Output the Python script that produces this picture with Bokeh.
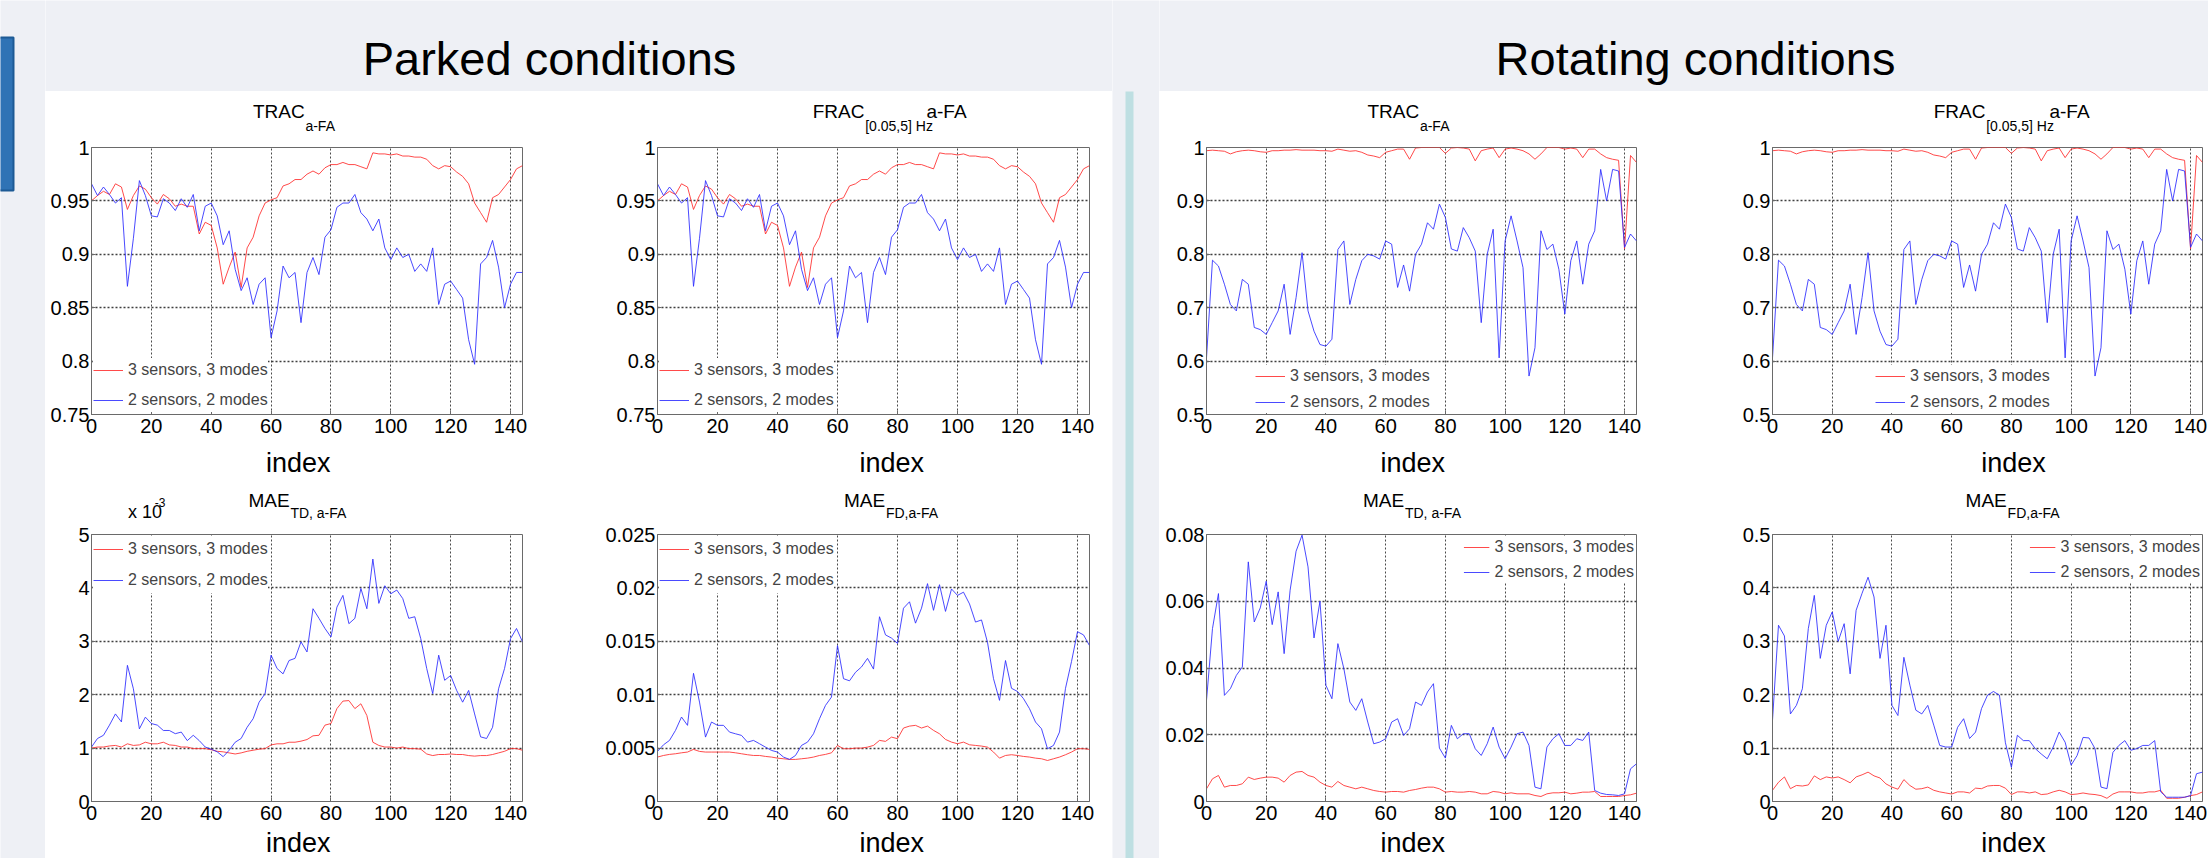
from bokeh.plotting import figure
from bokeh.layouts import row, column
from bokeh.models import Range1d, FixedTicker, Legend, LegendItem, Label
from bokeh.embed import file_html
from bokeh.resources import INLINE

FONT = "Liberation Sans"
BG = "#EEF0F5"
WHITE = "#FFFFFF"
RED = "#ff2a2a"
BLUE = "#2a2aff"
AXC = "#6a6a6a"
MID = 0.3465  # baseline -> middle offset, in em

# ---------------- data ----------------
index = list(range(0, 145, 2))
x_ticks = [0, 20, 40, 60, 80, 100, 120, 140]
headers = ["Parked conditions", "Rotating conditions"]
series_names = ["3 sensors, 3 modes", "2 sensors, 2 modes"]

trac_parked_ticks = [0.75, 0.8, 0.85, 0.9, 0.95, 1.0]
trac_parked_labels = ["0.75", "0.8", "0.85", "0.9", "0.95", "1"]
mae_td_parked_ticks = [0, 1, 2, 3, 4, 5]
mae_td_parked_labels = ["0", "1", "2", "3", "4", "5"]
mae_fd_parked_ticks = [0.0, 0.005, 0.01, 0.015, 0.02, 0.025]
mae_fd_parked_labels = ["0", "0.005", "0.01", "0.015", "0.02", "0.025"]
trac_rot_ticks = [0.5, 0.6, 0.7, 0.8, 0.9, 1.0]
trac_rot_labels = ["0.5", "0.6", "0.7", "0.8", "0.9", "1"]
mae_td_rot_ticks = [0.0, 0.02, 0.04, 0.06, 0.08]
mae_td_rot_labels = ["0", "0.02", "0.04", "0.06", "0.08"]
mae_fd_rot_ticks = [0.0, 0.1, 0.2, 0.3, 0.4, 0.5]
mae_fd_rot_labels = ["0", "0.1", "0.2", "0.3", "0.4", "0.5"]

trac_parked_3s = [0.950, 0.955, 0.959, 0.956, 0.966, 0.963, 0.942, 0.955, 0.964, 0.961,
                  0.953, 0.947, 0.956, 0.952, 0.945, 0.947, 0.945, 0.945, 0.919, 0.930,
                  0.927, 0.906, 0.872, 0.888, 0.902, 0.869, 0.906, 0.916, 0.936, 0.948,
                  0.951, 0.953, 0.964, 0.966, 0.970, 0.970, 0.975, 0.978, 0.975, 0.981,
                  0.984, 0.984, 0.986, 0.984, 0.984, 0.982, 0.980, 0.995, 0.994, 0.994,
                  0.993, 0.994, 0.992, 0.992, 0.991, 0.991, 0.989, 0.983, 0.980, 0.983,
                  0.982, 0.977, 0.973, 0.966, 0.948, 0.939, 0.930, 0.953, 0.956, 0.963,
                  0.970, 0.980, 0.983]
trac_parked_2s = [0.966, 0.955, 0.963, 0.956, 0.948, 0.953, 0.870, 0.915, 0.969, 0.955,
                  0.936, 0.935, 0.952, 0.948, 0.941, 0.952, 0.944, 0.956, 0.922, 0.945,
                  0.948, 0.936, 0.909, 0.922, 0.886, 0.866, 0.878, 0.853, 0.872, 0.878,
                  0.822, 0.847, 0.889, 0.878, 0.883, 0.836, 0.883, 0.897, 0.881, 0.916,
                  0.923, 0.944, 0.948, 0.948, 0.956, 0.939, 0.933, 0.922, 0.933, 0.906,
                  0.895, 0.906, 0.897, 0.900, 0.884, 0.891, 0.884, 0.906, 0.853, 0.872,
                  0.875, 0.867, 0.859, 0.820, 0.797, 0.891, 0.897, 0.913, 0.888, 0.850,
                  0.872, 0.883, 0.883]
frac_parked_3s = [0.950, 0.955, 0.959, 0.956, 0.966, 0.963, 0.942, 0.955, 0.964, 0.961,
                  0.953, 0.947, 0.956, 0.952, 0.945, 0.947, 0.945, 0.945, 0.919, 0.930,
                  0.927, 0.906, 0.870, 0.888, 0.902, 0.869, 0.906, 0.916, 0.936, 0.948,
                  0.951, 0.953, 0.964, 0.966, 0.970, 0.970, 0.975, 0.978, 0.975, 0.981,
                  0.984, 0.984, 0.986, 0.984, 0.984, 0.982, 0.980, 0.995, 0.994, 0.994,
                  0.993, 0.994, 0.992, 0.992, 0.991, 0.991, 0.989, 0.983, 0.980, 0.983,
                  0.982, 0.977, 0.973, 0.966, 0.948, 0.939, 0.930, 0.953, 0.956, 0.963,
                  0.970, 0.980, 0.983]
frac_parked_2s = [0.966, 0.955, 0.963, 0.956, 0.948, 0.953, 0.870, 0.915, 0.969, 0.955,
                  0.936, 0.935, 0.952, 0.948, 0.941, 0.952, 0.944, 0.956, 0.922, 0.945,
                  0.948, 0.936, 0.909, 0.922, 0.886, 0.866, 0.878, 0.853, 0.872, 0.878,
                  0.822, 0.847, 0.889, 0.878, 0.883, 0.836, 0.883, 0.897, 0.881, 0.916,
                  0.923, 0.944, 0.948, 0.948, 0.956, 0.939, 0.933, 0.922, 0.933, 0.906,
                  0.895, 0.906, 0.897, 0.900, 0.884, 0.891, 0.884, 0.906, 0.853, 0.872,
                  0.875, 0.867, 0.859, 0.820, 0.797, 0.891, 0.897, 0.913, 0.888, 0.850,
                  0.872, 0.883, 0.883]
# MAE TD parked, in units of 1e-3
mae_td_parked_3s = [1.00, 1.02, 1.02, 1.04, 1.05, 1.02, 1.08, 1.05, 1.06, 1.11,
                    1.08, 1.08, 1.11, 1.06, 1.05, 1.02, 1.02, 0.99, 0.99, 0.99,
                    0.97, 0.94, 0.93, 0.91, 0.89, 0.91, 0.94, 0.96, 0.98, 0.99,
                    1.06, 1.08, 1.08, 1.11, 1.11, 1.13, 1.16, 1.23, 1.24, 1.43,
                    1.46, 1.74, 1.88, 1.89, 1.74, 1.83, 1.61, 1.11, 1.05, 1.02,
                    1.02, 1.00, 1.02, 0.99, 0.99, 0.98, 0.89, 0.86, 0.88, 0.88,
                    0.89, 0.88, 0.88, 0.86, 0.85, 0.86, 0.86, 0.88, 0.91, 0.94,
                    0.99, 0.99, 0.96]
mae_td_parked_2s = [1.02, 1.18, 1.24, 1.43, 1.64, 1.49, 2.55, 2.11, 1.36, 1.58,
                    1.46, 1.43, 1.33, 1.33, 1.27, 1.30, 1.14, 1.24, 1.14, 1.02,
                    0.98, 0.93, 0.84, 0.96, 1.11, 1.18, 1.39, 1.55, 1.86, 2.02,
                    2.74, 2.49, 2.39, 2.64, 2.68, 2.99, 2.80, 3.61, 3.43, 3.24,
                    3.08, 3.64, 3.86, 3.33, 3.43, 3.99, 3.61, 4.54, 3.71, 4.04,
                    3.89, 3.96, 3.80, 3.43, 3.46, 3.05, 2.49, 2.02, 2.74, 2.27,
                    2.36, 2.08, 1.86, 2.08, 1.64, 1.21, 1.18, 1.39, 2.11, 2.49,
                    3.05, 3.24, 2.99]
mae_fd_parked_3s = [0.00416, 0.00431, 0.00441, 0.00447, 0.00456, 0.00463, 0.00488, 0.00469, 0.00463, 0.00463,
                    0.00463, 0.00463, 0.00463, 0.00456, 0.00447, 0.00438, 0.00431, 0.00431, 0.00422, 0.00416,
                    0.00406, 0.00400, 0.00394, 0.00394, 0.00400, 0.00406, 0.00416, 0.00431, 0.00441, 0.00456,
                    0.00525, 0.00494, 0.00494, 0.00500, 0.00500, 0.00509, 0.00525, 0.00572, 0.00563, 0.00603,
                    0.00588, 0.00688, 0.00706, 0.00713, 0.00688, 0.00706, 0.00666, 0.00634, 0.00581, 0.00556,
                    0.00541, 0.00556, 0.00531, 0.00525, 0.00519, 0.00509, 0.00463, 0.00406, 0.00431, 0.00438,
                    0.00431, 0.00422, 0.00416, 0.00406, 0.00400, 0.00384, 0.00400, 0.00416, 0.00438, 0.00463,
                    0.00494, 0.00494, 0.00488]
mae_fd_parked_2s = [0.00469, 0.00531, 0.00572, 0.00666, 0.00791, 0.00713, 0.01200, 0.00931, 0.00603, 0.00744,
                    0.00713, 0.00713, 0.00650, 0.00634, 0.00619, 0.00556, 0.00572, 0.00541, 0.00509, 0.00478,
                    0.00463, 0.00416, 0.00394, 0.00431, 0.00525, 0.00556, 0.00634, 0.00775, 0.00900, 0.00978,
                    0.01460, 0.01150, 0.01130, 0.01210, 0.01260, 0.01340, 0.01240, 0.01730, 0.01560, 0.01530,
                    0.01480, 0.01810, 0.01870, 0.01670, 0.01810, 0.02040, 0.01790, 0.02030, 0.01780, 0.01990,
                    0.01930, 0.01960, 0.01850, 0.01680, 0.01700, 0.01490, 0.01150, 0.00947, 0.01320, 0.01060,
                    0.01030, 0.00963, 0.00869, 0.00744, 0.00681, 0.00494, 0.00525, 0.00650, 0.01060, 0.01310,
                    0.01590, 0.01560, 0.01460]
trac_rot_3s = [0.994, 0.995, 0.994, 0.993, 0.988, 0.992, 0.994, 0.995, 0.994, 0.992,
               0.991, 0.994, 0.994, 0.995, 0.995, 0.996, 0.995, 0.995, 0.995, 0.994,
               0.994, 0.993, 0.997, 0.995, 0.993, 0.994, 0.991, 0.986, 0.984, 0.981,
               0.991, 0.994, 0.997, 0.997, 0.978, 0.999, 1.000, 1.000, 1.000, 1.000,
               0.989, 0.999, 1.000, 0.999, 0.997, 0.975, 0.994, 0.997, 0.999, 0.981,
               0.997, 0.999, 0.997, 0.994, 0.988, 0.978, 0.988, 1.000, 1.000, 1.000,
               0.997, 0.999, 0.997, 0.981, 0.997, 0.997, 0.988, 0.981, 0.978, 0.976,
               0.810, 0.985, 0.972]
trac_rot_2s = [0.606, 0.789, 0.778, 0.744, 0.706, 0.694, 0.753, 0.744, 0.663, 0.659,
               0.650, 0.672, 0.694, 0.744, 0.650, 0.719, 0.803, 0.694, 0.656, 0.631,
               0.628, 0.641, 0.809, 0.825, 0.706, 0.753, 0.788, 0.800, 0.797, 0.791,
               0.825, 0.819, 0.738, 0.780, 0.731, 0.800, 0.819, 0.859, 0.847, 0.894,
               0.869, 0.810, 0.806, 0.850, 0.831, 0.806, 0.672, 0.800, 0.847, 0.606,
               0.825, 0.872, 0.825, 0.775, 0.572, 0.625, 0.844, 0.809, 0.819, 0.772,
               0.688, 0.788, 0.825, 0.744, 0.819, 0.844, 0.959, 0.900, 0.959, 0.956,
               0.813, 0.838, 0.825]
frac_rot_3s = [0.994, 0.995, 0.994, 0.993, 0.988, 0.992, 0.994, 0.995, 0.994, 0.992,
               0.991, 0.994, 0.994, 0.995, 0.995, 0.996, 0.995, 0.995, 0.995, 0.994,
               0.994, 0.993, 0.997, 0.995, 0.993, 0.994, 0.991, 0.986, 0.984, 0.981,
               0.991, 0.994, 0.997, 0.997, 0.978, 0.999, 1.000, 1.000, 1.000, 1.000,
               0.989, 0.999, 1.000, 0.999, 0.997, 0.975, 0.994, 0.997, 0.999, 0.981,
               0.997, 0.999, 0.997, 0.994, 0.988, 0.978, 0.988, 1.000, 1.000, 1.000,
               0.997, 0.999, 0.997, 0.981, 0.997, 0.997, 0.988, 0.981, 0.978, 0.976,
               0.810, 0.985, 0.972]
frac_rot_2s = [0.606, 0.789, 0.778, 0.744, 0.706, 0.694, 0.753, 0.744, 0.663, 0.659,
               0.650, 0.672, 0.694, 0.744, 0.650, 0.719, 0.803, 0.694, 0.656, 0.631,
               0.628, 0.641, 0.809, 0.825, 0.706, 0.753, 0.788, 0.800, 0.797, 0.791,
               0.825, 0.819, 0.738, 0.780, 0.731, 0.800, 0.819, 0.859, 0.847, 0.894,
               0.869, 0.810, 0.806, 0.850, 0.831, 0.806, 0.672, 0.800, 0.847, 0.606,
               0.825, 0.872, 0.825, 0.775, 0.572, 0.625, 0.844, 0.809, 0.819, 0.772,
               0.688, 0.788, 0.825, 0.744, 0.819, 0.844, 0.959, 0.900, 0.959, 0.956,
               0.813, 0.838, 0.825]
mae_td_rot_3s = [0.0038, 0.0068, 0.0078, 0.0043, 0.0048, 0.0048, 0.0053, 0.0073, 0.0066, 0.0070,
                 0.0073, 0.0073, 0.0070, 0.0058, 0.0078, 0.0088, 0.0090, 0.0078, 0.0073, 0.0058,
                 0.0048, 0.0043, 0.0060, 0.0048, 0.0043, 0.0038, 0.0043, 0.0038, 0.0033, 0.0030,
                 0.0028, 0.0030, 0.0030, 0.0028, 0.0033, 0.0036, 0.0040, 0.0043, 0.0043, 0.0038,
                 0.0028, 0.0030, 0.0028, 0.0028, 0.0030, 0.0028, 0.0023, 0.0023, 0.0030, 0.0028,
                 0.0023, 0.0026, 0.0023, 0.0023, 0.0023, 0.0018, 0.0015, 0.0023, 0.0026, 0.0026,
                 0.0028, 0.0023, 0.0025, 0.0028, 0.0028, 0.0030, 0.0015, 0.0015, 0.0015, 0.0015,
                 0.0018, 0.0020, 0.0025]
mae_td_rot_2s = [0.0303, 0.0518, 0.0623, 0.0318, 0.0338, 0.0378, 0.0403, 0.0718, 0.0538, 0.0580,
                 0.0660, 0.0530, 0.0628, 0.0443, 0.0633, 0.0750, 0.0798, 0.0703, 0.0490, 0.0600,
                 0.0348, 0.0308, 0.0473, 0.0398, 0.0298, 0.0273, 0.0308, 0.0238, 0.0173, 0.0178,
                 0.0188, 0.0238, 0.0248, 0.0198, 0.0218, 0.0298, 0.0288, 0.0328, 0.0353, 0.0160,
                 0.0130, 0.0228, 0.0188, 0.0203, 0.0203, 0.0158, 0.0138, 0.0173, 0.0223, 0.0163,
                 0.0128, 0.0163, 0.0203, 0.0208, 0.0168, 0.0043, 0.0038, 0.0163, 0.0188, 0.0203,
                 0.0168, 0.0168, 0.0188, 0.0183, 0.0208, 0.0033, 0.0025, 0.0021, 0.0020, 0.0018,
                 0.0023, 0.0098, 0.0113]
mae_fd_rot_3s = [0.021, 0.036, 0.046, 0.024, 0.030, 0.029, 0.031, 0.048, 0.041, 0.046,
                 0.044, 0.046, 0.041, 0.035, 0.046, 0.050, 0.055, 0.048, 0.044, 0.033,
                 0.027, 0.023, 0.041, 0.030, 0.023, 0.024, 0.027, 0.021, 0.018, 0.016,
                 0.014, 0.018, 0.018, 0.016, 0.025, 0.024, 0.029, 0.030, 0.030, 0.025,
                 0.013, 0.018, 0.018, 0.016, 0.018, 0.013, 0.014, 0.018, 0.021, 0.018,
                 0.013, 0.014, 0.016, 0.014, 0.013, 0.011, 0.006, 0.014, 0.018, 0.018,
                 0.018, 0.016, 0.016, 0.018, 0.018, 0.021, 0.006, 0.006, 0.006, 0.008,
                 0.011, 0.013, 0.018]
mae_fd_rot_2s = [0.152, 0.330, 0.310, 0.164, 0.180, 0.211, 0.324, 0.386, 0.268, 0.330,
                 0.355, 0.300, 0.333, 0.239, 0.358, 0.390, 0.420, 0.383, 0.268, 0.330,
                 0.180, 0.161, 0.270, 0.218, 0.171, 0.164, 0.180, 0.143, 0.105, 0.102,
                 0.102, 0.139, 0.155, 0.118, 0.130, 0.174, 0.199, 0.206, 0.199, 0.110,
                 0.064, 0.124, 0.114, 0.114, 0.099, 0.089, 0.080, 0.102, 0.130, 0.111,
                 0.068, 0.086, 0.120, 0.119, 0.099, 0.027, 0.024, 0.092, 0.105, 0.114,
                 0.096, 0.099, 0.105, 0.105, 0.114, 0.018, 0.008, 0.008, 0.008, 0.008,
                 0.011, 0.052, 0.055]

# title pieces: (text, x offset from frame centre, level, size, align)
title_trac = [("TRAC", 8, "main", 19, "right"), ("a-FA", 9, "sub", 14, "left")]
title_frac = [("FRAC", -33, "main", 19, "right"), ("[0.05,5] Hz", -32, "sub", 14, "left"),
              ("a-FA", 42, "main", 19, "left")]
title_mae_td = [("MAE", -11, "main", 19, "right"), ("TD, a-FA", -10, "sub", 14, "left")]
title_mae_fd = [("MAE", -8, "main", 19, "right"), ("FD,a-FA", -7, "sub", 14, "left")]

# vertical geometry per row: title canvas h, index canvas h, main/sub/index baselines (px above canvas bottom)
ROWS = {"top": dict(th=44, ih=41, main=17, sub=5, idx=10),
        "bot": dict(th=40, ih=30, main=15, sub=5, idx=6)}
TOPB = 12
BOTB = 27
PLOT_H = TOPB + 267 + BOTB
TOTAL_H = 858


def canvas(w, h, bg):
    c = figure(width=w, height=h, x_range=Range1d(0, w), y_range=Range1d(0, h),
               output_backend="svg", toolbar_location=None, min_border=0,
               x_axis_location=None, y_axis_location=None,
               background_fill_color=bg, border_fill_color=bg, outline_line_color=None)
    c.grid.visible = False
    return c


def put_text(c, x, baseline, text, size, align="left"):
    c.add_layout(Label(x=x, y=baseline + MID * size, text=text, text_font=FONT,
                       text_font_size=f"{size}px", text_align=align,
                       text_baseline="middle", text_color="black"))


def cell(w, kind, bl, br, red, blue, yr, yticks, ylabels, title, legend_kw, extra=()):
    g = ROWS[kind]
    fw = w - bl - br
    cx = bl + fw / 2.0
    tc = canvas(w, g["th"], WHITE)
    for (txt, xo, level, size, align) in title:
        put_text(tc, cx + xo, g[level], txt, size, align)
    for (x, b, txt, size, align) in extra:
        put_text(tc, x, b, txt, size, align)

    p = figure(width=w, height=PLOT_H, x_range=Range1d(0, 144), y_range=Range1d(yr[0], yr[1]),
               output_backend="svg", toolbar_location=None,
               min_border_left=bl, min_border_right=br, min_border_top=TOPB, min_border_bottom=BOTB,
               background_fill_color=WHITE, border_fill_color=WHITE,
               outline_line_color=AXC, outline_line_width=1)
    p.xgrid.grid_line_color = "#2a2a2a"
    p.xgrid.grid_line_dash = "2 2"
    p.xgrid.grid_line_alpha = 0.85
    p.ygrid.grid_line_color = "#2a2a2a"
    p.ygrid.grid_line_dash = "2 2"
    p.ygrid.grid_line_alpha = 0.9
    p.ygrid.grid_line_width = 1.3
    r1 = p.line(index, red, line_color=RED, line_width=1, line_alpha=0.85)
    r2 = p.line(index, blue, line_color=BLUE, line_width=1, line_alpha=0.85)
    p.xaxis.ticker = FixedTicker(ticks=x_ticks)
    p.yaxis.ticker = FixedTicker(ticks=yticks)
    p.yaxis.major_label_overrides = dict(zip(yticks, ylabels))
    p.axis.major_tick_in = 4
    p.axis.major_tick_out = 0
    p.axis.minor_tick_line_color = None
    p.axis.axis_line_color = AXC
    p.axis.major_tick_line_color = AXC
    p.axis.major_label_text_font = FONT
    p.axis.major_label_text_font_size = "20px"
    p.axis.major_label_text_color = "black"
    p.xaxis.major_label_standoff = 4
    p.yaxis.major_label_standoff = 2
    leg = Legend(items=[LegendItem(label=series_names[0], renderers=[r1]),
                        LegendItem(label=series_names[1], renderers=[r2])],
                 background_fill_color="white", background_fill_alpha=1.0,
                 border_line_color=None, label_text_font=FONT,
                 label_text_font_size="16px", label_standoff=5, **legend_kw)
    p.add_layout(leg)

    ic = canvas(w, g["ih"], WHITE)
    put_text(ic, cx, g["idx"], "index", 27, "center")
    return column(tc, p, ic)


leg_parked_top = dict(location="bottom_left", margin=2, padding=8, spacing=6,
                      glyph_width=30, glyph_height=24, label_height=24)
leg_parked_bot = dict(location="top_left", margin=2, padding=8, spacing=5,
                      glyph_width=30, glyph_height=26, label_height=26)
leg_rot_trac = dict(location=(49, 1), margin=0, padding=6, spacing=4,
                    glyph_width=30, glyph_height=22, label_height=22)
leg_rot_frac = dict(location=(103, 1), margin=0, padding=6, spacing=4,
                    glyph_width=30, glyph_height=22, label_height=22)
leg_rot_bot = dict(location="top_right", margin=2, padding=7, spacing=3,
                   glyph_width=26, glyph_height=22, label_height=22)

# parked panel (cells 545 + 522 wide)
pTL = cell(545, "top", 46, 68, trac_parked_3s, trac_parked_2s, (0.75, 1.0),
           trac_parked_ticks, trac_parked_labels, title_trac, leg_parked_top)
pTR = cell(522, "top", 67, 23, frac_parked_3s, frac_parked_2s, (0.75, 1.0),
           trac_parked_ticks, trac_parked_labels, title_frac, leg_parked_top)
pBL = cell(545, "bot", 46, 68, mae_td_parked_3s, mae_td_parked_2s, (0, 5),
           mae_td_parked_ticks, mae_td_parked_labels, title_mae_td, leg_parked_bot,
           extra=[(46, 4, "x 10", 18, "left"), (80, 16, "-3", 12, "left")])
pBR = cell(522, "bot", 67, 23, mae_fd_parked_3s, mae_fd_parked_2s, (0, 0.025),
           mae_fd_parked_ticks, mae_fd_parked_labels, title_mae_fd, leg_parked_bot)

# rotating panel (cells 546 + 503 wide)
rTL = cell(546, "top", 47, 69, trac_rot_3s, trac_rot_2s, (0.5, 1.0),
           trac_rot_ticks, trac_rot_labels, title_trac, leg_rot_trac)
rTR = cell(503, "top", 67, 6, frac_rot_3s, frac_rot_2s, (0.5, 1.0),
           trac_rot_ticks, trac_rot_labels, title_frac, leg_rot_frac)
rBL = cell(546, "bot", 47, 69, mae_td_rot_3s, mae_td_rot_2s, (0, 0.08),
           mae_td_rot_ticks, mae_td_rot_labels, title_mae_td, leg_rot_bot)
rBR = cell(503, "bot", 67, 6, mae_fd_rot_3s, mae_fd_rot_2s, (0, 0.5),
           mae_fd_rot_ticks, mae_fd_rot_labels, title_mae_fd, leg_rot_bot)

hL = canvas(1067, 91, BG)
put_text(hL, 504, 17, headers[0], 47, "center")
hR = canvas(1049, 91, BG)
put_text(hR, 536, 17, headers[1], 47, "center")

stripA = canvas(45, TOTAL_H, BG)
stripA.quad(left=[-30], right=[13], top=[TOTAL_H - 37], bottom=[TOTAL_H - 190],
            fill_color="#2F73B5", line_color="#1D5A95", line_width=2)
stripB = canvas(47, TOTAL_H, BG)
stripB.quad(left=[13], right=[21], top=[TOTAL_H - 91], bottom=[0],
            fill_color="#BEDFE2", line_color=None)

left_block = column(hL, row(column(pTL, pBL), column(pTR, pBR)))
right_block = column(hR, row(column(rTL, rBL), column(rTR, rBR)))
root = row(stripA, left_block, stripB, right_block)

open("out.html", "w").write(file_html(root, INLINE))
